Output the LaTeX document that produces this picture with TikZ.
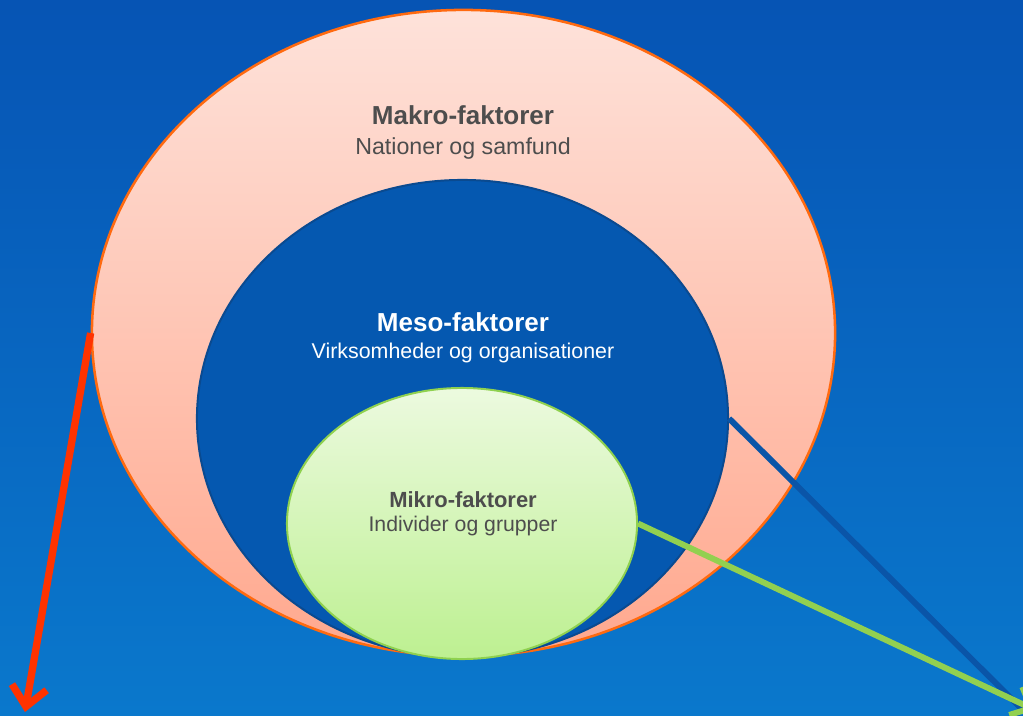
\documentclass[tikz,border=0pt]{standalone}
\usepackage{fontspec}
\setmainfont{Liberation Sans}
\usetikzlibrary{shapes.geometric,arrows.meta}
\definecolor{bgtop}{HTML}{0654B4}
\definecolor{bgbottom}{HTML}{0A78CC}
\definecolor{makrotop}{HTML}{FEE2DA}
\definecolor{makrobottom}{HTML}{FFA88E}
\definecolor{makroline}{HTML}{FF6A10}
\definecolor{mesofill}{HTML}{0558B0}
\definecolor{mesoline}{HTML}{0A4A90}
\definecolor{mikrotop}{HTML}{ECFADF}
\definecolor{mikrobottom}{HTML}{BDF091}
\definecolor{mikroline}{HTML}{8FD14F}
\definecolor{labelgray}{HTML}{4D4D4D}
\definecolor{pilred}{HTML}{FF3300}
\definecolor{pilblue}{HTML}{0A55A8}
\definecolor{pilgreen}{HTML}{92D050}
\begin{document}
\begin{tikzpicture}[x=0.025cm,y=-0.025cm]
\tikzstyle{ring}=[ellipse,draw,inner sep=0pt]
\tikzstyle{title}=[anchor=base,font=\bfseries,text=labelgray]
\tikzstyle{sub}=[anchor=base,text=labelgray]
\tikzstyle{pil}=[line width=4.2pt,-{Straight Barb[length=12pt,width=22pt]}]
\useasboundingbox (0,0) rectangle (1023,715);
\clip (0,0) rectangle (1023,715);
\shade[top color=bgtop,bottom color=bgbottom] (0,0) rectangle (1023,715);
% circles
\node[style={ring,line width=1.8pt,draw=makroline,top color=makrotop,bottom color=makrobottom,
  minimum width=18.575cm,minimum height=16.15cm}] (makro) at (463.5,333) {};
\node[style={ring,line width=1.4pt,draw=mesoline,fill=mesofill,
  minimum width=13.275cm,minimum height=11.925cm}] (meso) at (462.5,418.5) {};
\node[style={ring,line width=1.4pt,draw=mikroline,top color=mikrotop,bottom color=mikrobottom,
  minimum width=8.75cm,minimum height=6.775cm}] (mikro) at (462,523.5) {};
% labels
\node[style={title},font=\fontsize{18.5}{20}\bfseries] (makrotitle) at (463,125) {Makro-faktorer};
\node[style={sub},font=\fontsize{16.5}{18}\selectfont] (makrosub) at (463,155) {Nationer og samfund};
\node[style={title},text=white,font=\fontsize{18.5}{20}\bfseries] (mesotitle) at (463,331) {Meso-faktorer};
\node[style={sub},text=white,font=\fontsize{15.2}{17}\selectfont] (mesosub) at (463,358) {Virksomheder og organisationer};
\node[style={title},font=\fontsize{15.6}{17}\bfseries] (mikrotitle) at (463,507) {Mikro-faktorer};
\node[style={sub},font=\fontsize{15.1}{17}\selectfont] (mikrosub) at (463,531) {Individer og grupper};
\coordinate (redend) at (25,712);
\coordinate (blueend) at (1035,722);
\coordinate (greenend) at (1035,710);
\path[]
    (makro.west) edge[pil,draw=pilred,line width=5.2pt,-{Straight Barb[length=14pt,width=25pt]}] (redend)
    (meso.east) edge[pil,draw=pilblue] (blueend)
    (mikro.east) edge[pil,draw=pilgreen] (greenend);
\end{tikzpicture}
\end{document}
